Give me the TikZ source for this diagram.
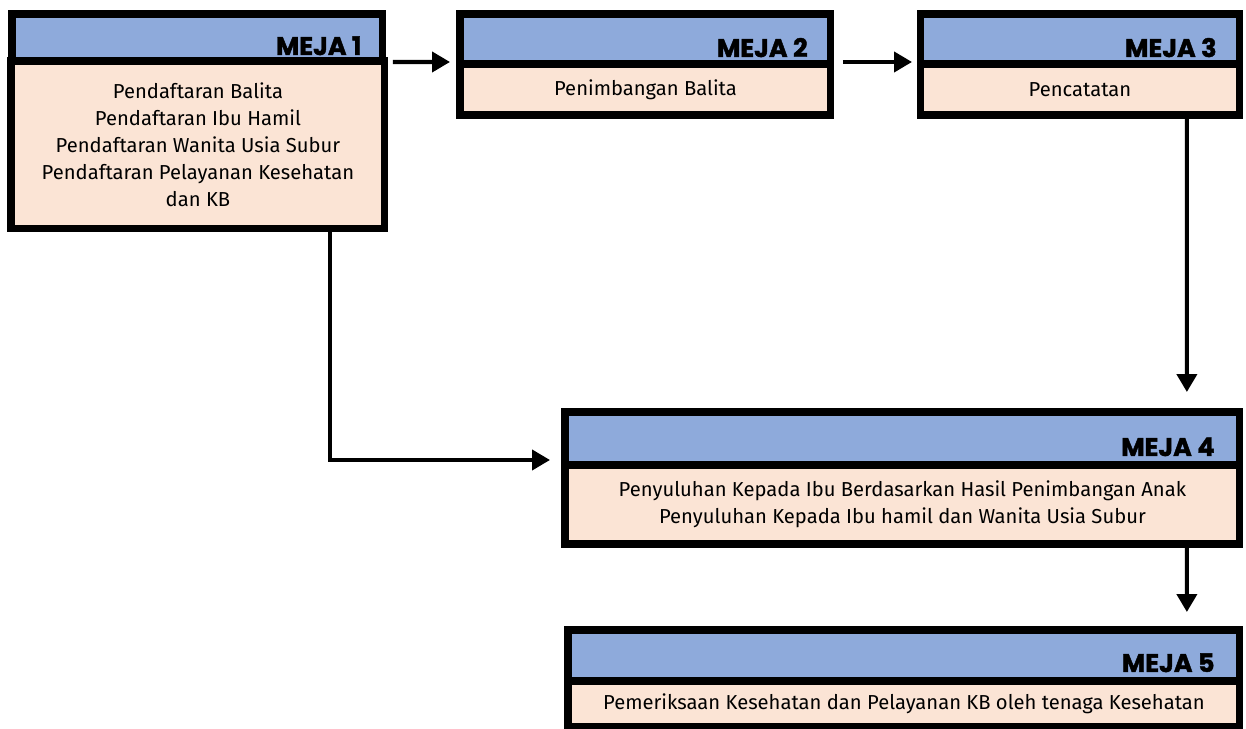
\documentclass[tikz,border=0pt]{standalone}
\usepackage{fontspec}
\setmainfont{Fira Sans}
\newfontfamily\mejafont{Poppins}[BoldFeatures={FakeBold=1.6}]
\usetikzlibrary{calc,arrows.meta}
\definecolor{mejablue}{RGB}{142,170,219}
\definecolor{mejapeach}{RGB}{251,228,213}
\tikzset{
  mejahead/.style={draw=black,fill=mejablue,line width=4pt,outer sep=0pt,inner sep=0pt,anchor=north west},
  mejabody/.style={draw=black,fill=mejapeach,line width=4pt,outer sep=0pt,inner sep=0pt,align=center,anchor=north west,font=\fontsize{11.5}{15.3}\selectfont},
  mejalabel/.style={font=\mejafont\bfseries\fontsize{14.5}{15}\selectfont,anchor=base east,inner sep=0pt},
  arr/.style={line width=2.3pt,-{Triangle[length=0.36cm,width=0.4cm]}}
}
\begin{document}
\begin{tikzpicture}[x=0.02cm,y=-0.02cm]
	\useasboundingbox (0,0) rectangle (1246,729);
	
	% meja 1
	\node[mejabody,minimum width=7.48cm,minimum height=3.36cm] (m1body) at (11,61) {Pendaftaran Balita\\Pendaftaran Ibu Hamil\\Pendaftaran Wanita Usia Subur\\Pendaftaran Pelayanan Kesehatan\\dan KB};
	\node[mejahead,minimum width=7.42cm,minimum height=0.94cm] (m1head) at (12,14) {};
	\node[mejalabel] (m1lab) at ($(m1head.south east)+(-21,-6)$) {MEJA 1};
	
	% meja 2
	\node[mejabody,minimum width=7.42cm,minimum height=1.02cm] (m2body) at (460,64) {Penimbangan Balita};
	\node[mejahead,minimum width=7.42cm,minimum height=1cm] (m2head) at (460,14) {};
	\node[mejalabel] (m2lab) at ($(m2head.south east)+(-23,-7)$) {MEJA 2};
	
	% meja 3
	\node[mejabody,minimum width=6.4cm,minimum height=1.02cm] (m3body) at (920,64) {Pencatatan};
	\node[mejahead,minimum width=6.4cm,minimum height=1cm] (m3head) at (920,14) {};
	\node[mejalabel] (m3lab) at ($(m3head.south east)+(-23,-7)$) {MEJA 3};
	
	% meja 4
	\node[mejabody,minimum width=13.5cm,minimum height=1.58cm] (m4body) at (565,465) {Penyuluhan Kepada Ibu Berdasarkan Hasil Penimbangan Anak\\Penyuluhan Kepada Ibu hamil dan Wanita Usia Subur};
	\node[mejahead,minimum width=13.5cm,minimum height=1.06cm] (m4head) at (565,412) {};
	\node[mejalabel] (m4lab) at ($(m4head.south east)+(-25,-9)$) {MEJA 4};
	
	% meja 5
	\node[mejabody,minimum width=13.44cm,minimum height=0.92cm] (m5body) at (568,681) {Pemeriksaan Kesehatan dan Pelayanan KB oleh tenaga Kesehatan};
	\node[mejahead,minimum width=13.44cm,minimum height=1.02cm] (m5head) at (568,630) {};
	\node[mejalabel] (m5lab) at ($(m5head.south east)+(-25,-9)$) {MEJA 5};
	
	% alur
	\draw[arr] ($(m1head.south east)+(10,1)$) -- ($(m2head.south west)+(-10,-2)$);
	\draw[arr] ($(m2head.south east)+(12,-2)$) -- ($(m3head.south west)+(-8,-2)$);
	\draw[arr] ($(m3body.south east)+(-53,0)$) -- ($(m4head.north east)+(-53,-20)$);
	\draw[arr] ($(m1body.south west)+(319,0)$) |- ($(m4head.south west)+(-15,-5)$);
	\draw[arr] ($(m4body.south east)+(-53,0)$) -- ($(m5head.north east)+(-53,-18)$);
\end{tikzpicture}
\end{document}
